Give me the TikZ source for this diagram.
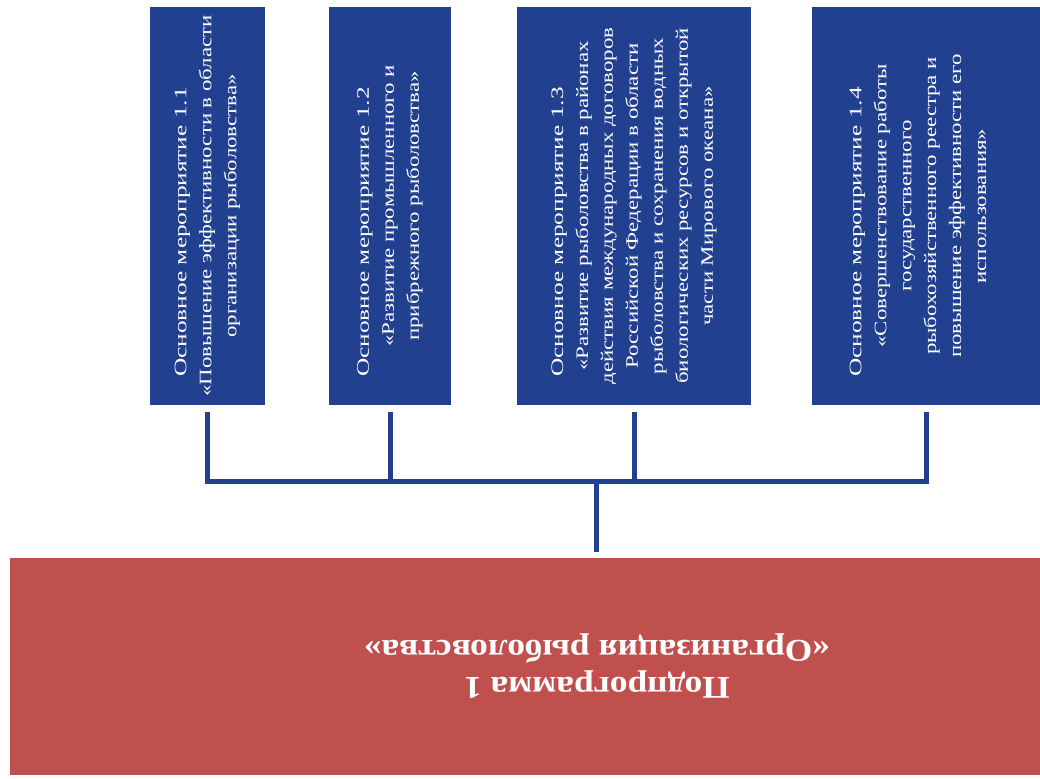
\documentclass[tikz,border=0pt]{standalone}
\usepackage{fontspec}
\setmainfont{Liberation Serif}
\newfontfamily\merafont[FakeStretch=1.3]{Liberation Serif}
\newfontfamily\merahead[FakeStretch=1.44]{Liberation Serif}
\newfontfamily\progfont[FakeStretch=1.12]{Liberation Serif}
\usetikzlibrary{calc}
\definecolor{merablue}{RGB}{33,64,143}
\definecolor{progred}{RGB}{192,80,77}
\def\meratext[#1]#2#3{\rotatebox{90}{\parbox{#1}{\centering\fontsize{10}{14.2}\selectfont{\merahead #2}\hspace*{1.04cm}\null\\\merafont #3}}}
\tikzset{
	mera/.style={fill=merablue, text=white, inner sep=0pt, minimum height=7.96cm},
	prog/.style={fill=progred, text=white, inner sep=0pt, minimum width=23.48cm, minimum height=4.34cm},
	link/.style={draw=merablue, line width=0.1cm}
}

\begin{document}
\begin{tikzpicture}
			%%%%% START %%%%%
			
			\useasboundingbox (0, 0) rectangle (20.8, 15.58);
			\clip (0, 0) rectangle (20.8, 15.58);
			
			\node[mera, minimum width=2.3cm] (m11) at (4.15, 11.46) {\meratext[7.9cm]{Основное мероприятие 1.1}{«Повышение эффективности в области\\организации рыболовства»}};
			\node[mera, minimum width=2.44cm] (m12) at (7.8, 11.46) {\meratext[7.9cm]{Основное мероприятие 1.2}{«Развитие промышленного и\\прибрежного рыболовства»}};
			\node[mera, minimum width=4.68cm] (m13) at (12.68, 11.46) {\meratext[7.9cm]{Основное мероприятие 1.3}{«Развитие рыболовства в районах\\действия международных договоров\\Российской Федерации в области\\рыболовства и сохранения водных\\биологических ресурсов и открытой\\части Мирового океана»}};
			\node[mera, minimum width=4.56cm] (m14) at (18.52, 11.46) {\hspace*{-0.32cm}\meratext[7.9cm]{Основное мероприятие 1.4}{«Совершенствование работы\\государственного\\рыбохозяйственного реестра и\\повышение эффективности его\\использования»}};
			
			\node[prog] (prog1) at (11.94, 2.25) {\rotatebox{180}{\parbox{14cm}{\centering\progfont\bfseries\fontsize{18}{21}\selectfont Подпрограмма 1\\«Организация рыболовства»}}};
			
			\coordinate (bus) at (11.92, 5.94);
			
			\draw[link] ([yshift=-0.14cm]m11.south) -- (m11.south |- bus) -- (m14.south |- bus) -- ([yshift=-0.14cm]m14.south);
			\draw[link] ([yshift=-0.14cm]m12.south) -- (m12.south |- bus);
			\draw[link] ([yshift=-0.14cm]m13.south) -- (m13.south |- bus);
			\draw[link] (bus) -- ([yshift=0.12cm]bus |- prog1.north);
			
			%%%%% END %%%%%
		\end{tikzpicture}
\end{document}
